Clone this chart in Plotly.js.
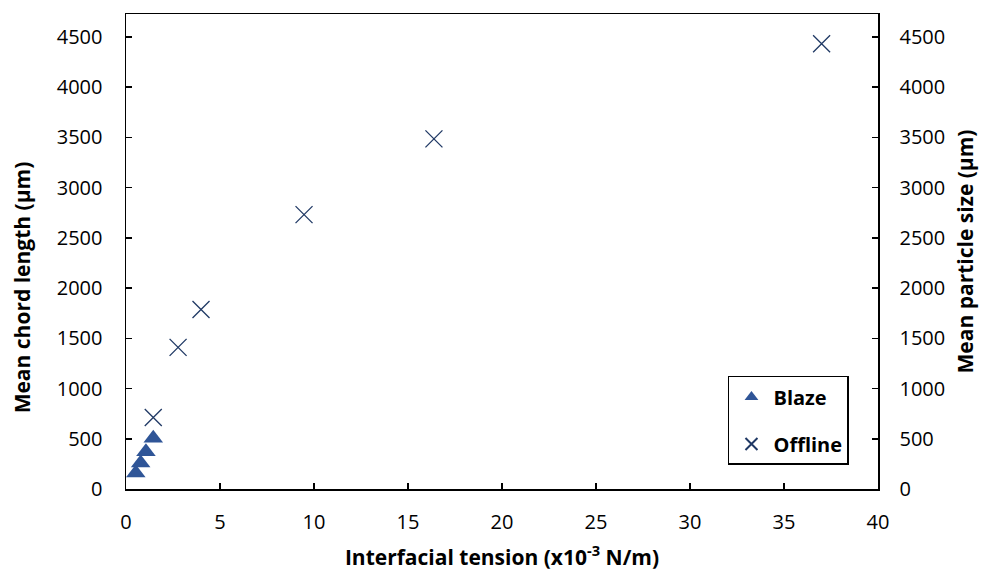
<!DOCTYPE html>
<html>
<head>
<meta charset="utf-8">
<script src="https://cdn.plot.ly/plotly-3.0.1.min.js"></script>
<style>html,body{margin:0;padding:0;background:#fff;}#chart{width:988px;height:571px;}</style>
</head>
<body>
<div id="chart"></div>
<script>
// Data
const blazeTension = [0.52, 0.78, 1.06, 1.45];
const blazeChord = [160, 258, 372, 506];
const offlineTension = [1.45, 2.77, 3.99, 9.47, 16.38, 37.0];
const offlineSize = [712, 1410, 1787, 2731, 3485, 4432];
const xTickVals = [0, 5, 10, 15, 20, 25, 30, 35, 40];
const yTickVals = [0, 500, 1000, 1500, 2000, 2500, 3000, 3500, 4000, 4500];

const FONT = 'Open Sans, Lato, sans-serif';
const yRange = [0, 4728];

const traces = [
  {
    x: blazeTension, y: blazeChord, name: 'Blaze', type: 'scatter', mode: 'markers',
    legendgroup: 'a',
    marker: {symbol: 'triangle-up', size: 17, color: '#2F5597', line: {width: 0}}
  },
  {
    x: offlineTension, y: offlineSize, name: 'Offline', type: 'scatter', mode: 'markers',
    yaxis: 'y2', legendgroup: 'b',
    marker: {symbol: 'x-thin-open', size: 17, color: '#1F3864', line: {width: 1.3, color: '#1F3864'}}
  }
];

const layout = {
  width: 988, height: 571,
  margin: {l: 126, r: 110, t: 14, b: 82},
  paper_bgcolor: '#fff', plot_bgcolor: '#fff',
  font: {family: FONT, size: 20, color: '#000'},
  showlegend: true,
  legend: {
    x: 0.8005, y: 0.238, xanchor: 'left', yanchor: 'top',
    bgcolor: '#fff', bordercolor: '#000', borderwidth: 1.5,
    font: {family: FONT, size: 20, color: '#000', weight: 'bold'},
    traceorder: 'grouped', tracegroupgap: 18,
    itemwidth: 34,
    itemsizing: 'constant'
  },
  annotations: [
    {
      text: 'Mean chord length (µm)', xref: 'paper', yref: 'paper',
      x: -0.138, y: 0.425, xanchor: 'center', yanchor: 'middle', textangle: -90,
      showarrow: false, font: {family: FONT, size: 21, weight: 'bold', color: '#000'}
    }
  ],
  xaxis: {
    range: [0, 40], tickvals: xTickVals, ticktext: xTickVals.map(String),
    showgrid: false, zeroline: false, showline: true, linecolor: '#000', linewidth: 1.5,
    mirror: true, ticks: 'inside', ticklen: 6, tickwidth: 1.5, tickcolor: '#000',
    tickfont: {family: FONT, size: 20}, ticklabelstandoff: 14,
    title: {text: 'Interfacial tension (x10<sup>-3</sup> N/m)', font: {family: FONT, size: 21, weight: 'bold'}, standoff: 18}
  },
  yaxis: {
    range: yRange, tickvals: yTickVals, ticktext: yTickVals.map(String),
    showgrid: false, zeroline: false, showline: true, linecolor: '#000', linewidth: 1.5,
    ticks: 'inside', ticklen: 6, tickwidth: 1.5, tickcolor: '#000',
    tickfont: {family: FONT, size: 20}, ticklabelstandoff: 18
  },
  yaxis2: {
    range: yRange, tickvals: yTickVals, ticktext: yTickVals.map(String),
    overlaying: 'y', side: 'right',
    showgrid: false, zeroline: false, showline: true, linecolor: '#000', linewidth: 1.5,
    ticks: 'inside', ticklen: 6, tickwidth: 1.5, tickcolor: '#000',
    tickfont: {family: FONT, size: 20}, ticklabelstandoff: 16,
    title: {text: 'Mean particle size (µm)', font: {family: FONT, size: 21, weight: 'bold'}, standoff: 14}
  }
};

Plotly.newPlot('chart', traces, layout, {displayModeBar: false, staticPlot: true});
</script>
</body>
</html>
